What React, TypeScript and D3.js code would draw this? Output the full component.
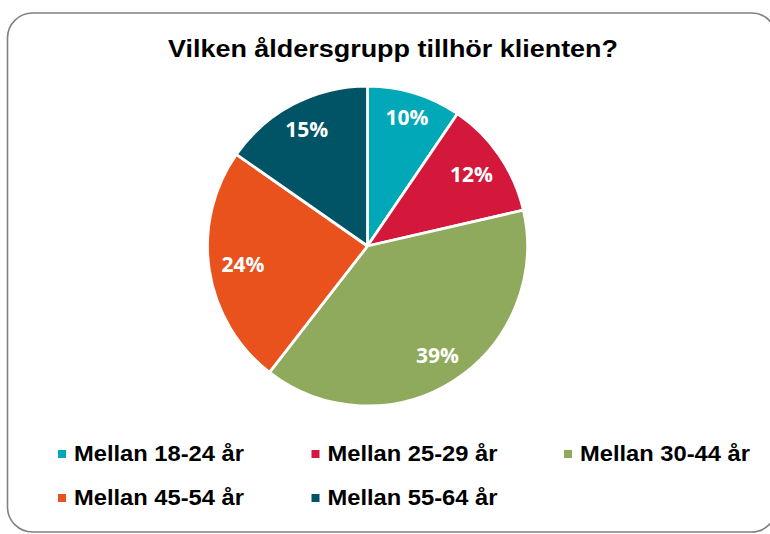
import React from "react";
import * as d3 from "d3";

const title = "Vilken åldersgrupp tillhör klienten?";
const categories = ["Mellan 18-24 år", "Mellan 25-29 år", "Mellan 30-44 år", "Mellan 45-54 år", "Mellan 55-64 år"];
const values = [9.5, 11.9, 39.1, 24.2, 15.3];
const colors = ["#01A8B8", "#D4183B", "#8FAA5D", "#E9511D", "#015466"];

const W = 770;
const H = 534;
const cx = 367.5;
const cy = 246;
const R = 160;

export default function App() {
  const pie = d3.pie<number>().sort(null).value((d) => d);
  const arcs = pie(values);
  const arc = d3.arc<d3.PieArcDatum<number>>().innerRadius(0).outerRadius(R);
  const total = d3.sum(values);

  const halfW = 22;
  const halfH = 8.5;
  const edge = 149;

  const legendCols = [58, 311.5, 564];
  const legendRows = [450, 494];

  return (
    <svg width={W} height={H} style={{ position: "absolute", left: 0, top: 0 }}>
      <rect x={0} y={0} width={W} height={H} fill="#fff" />
      <rect x={7.5} y={13} width={769} height={519} rx={25} ry={25} fill="#fff" stroke="#808080" strokeWidth={1.6} />
      <text
        x={393}
        y={56.5}
        textAnchor="middle"
        fontFamily="'Liberation Sans', Arial, sans-serif"
        fontWeight="bold"
        fontSize={23.5}
        textLength={450}
        lengthAdjust="spacingAndGlyphs"
        fill="#000"
      >
        {title}
      </text>
      <g transform={`translate(${cx},${cy})`}>
        {arcs.map((a, i) => (
          <path key={i} d={arc(a) || ""} fill={colors[i]} stroke="#fff" strokeWidth={2.8} strokeLinejoin="round" />
        ))}
        {arcs.map((a, i) => {
          const mid = (a.startAngle + a.endAngle) / 2;
          const s = Math.sin(mid);
          const c = Math.cos(mid);
          const ext = halfW * Math.abs(s) + halfH * Math.abs(c);
          const r = edge - ext;
          const x = r * s;
          const y = -r * c;
          return (
            <text
              key={i}
              x={x}
              y={y}
              dy="0.36em"
              textAnchor="middle"
              fontFamily="'Open Sans', sans-serif"
              fontWeight="bold"
              fontSize={21}
              fill="#fff"
            >
              {`${Math.round((values[i] / total) * 100)}%`}
            </text>
          );
        })}
      </g>
      {categories.map((cat, i) => {
        const col = i % 3;
        const row = Math.floor(i / 3);
        const mx = legendCols[col];
        const my = legendRows[row];
        return (
          <g key={cat}>
            <rect x={mx} y={my} width={8} height={8} fill={colors[i]} />
            <text
              x={mx + 16}
              y={my + 10.7}
              fontFamily="'Liberation Sans', Arial, sans-serif"
              fontWeight="bold"
              fontSize={21.5}
              textLength={170}
              lengthAdjust="spacingAndGlyphs"
              fill="#000"
            >
              {cat}
            </text>
          </g>
        );
      })}
    </svg>
  );
}
